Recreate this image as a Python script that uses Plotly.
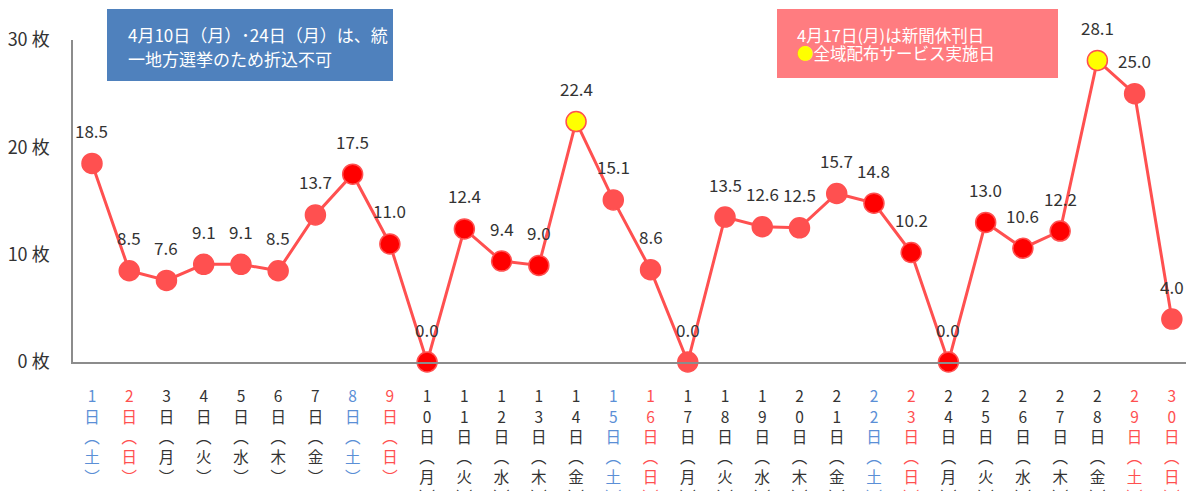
import plotly.graph_objects as go

days = list(range(1, 31))
weekdays = ["土", "日", "月", "火", "水", "木", "金"] * 4 + ["土", "日"]
values = [18.5, 8.5, 7.6, 9.1, 9.1, 8.5, 13.7, 17.5, 11.0, 0.0,
          12.4, 9.4, 9.0, 22.4, 15.1, 8.6, 0.0, 13.5, 12.6, 12.5,
          15.7, 14.8, 10.2, 0.0, 13.0, 10.6, 12.2, 28.1, 25.0, 4.0]
# marker type: L = light red, R = red, Y = yellow (全域配布)
marker_kind = ["L", "L", "L", "L", "L", "L", "L", "R", "R", "R",
               "R", "R", "R", "Y", "L", "L", "L", "L", "L", "L",
               "L", "R", "R", "R", "R", "R", "R", "Y", "L", "L"]
# label colour: B = Saturday blue, H = Sunday/holiday red, N = normal
label_kind = ["B", "H", "N", "N", "N", "N", "N", "B", "H", "N",
              "N", "N", "N", "N", "B", "H", "N", "N", "N", "N",
              "N", "B", "H", "N", "N", "N", "N", "N", "H", "H"]
y_ticks = [0, 10, 20, 30]
y_ticktext = [f"{v} 枚" for v in y_ticks]
blue_note = ["4月10日（月）･24日（月）は、統", "一地方選挙のため折込不可"]
pink_note = ["4月17日(月)は新聞休刊日",
             "<span style='color:#FFFF00'>●</span>全域配布サービス実施日"]

LINE = "#FF5050"
fill_map = {"L": "#FF5050", "R": "#FF0000", "Y": "#FFFF00"}
lab_color = {"B": "#5B8FD6", "H": "#FF5050", "N": "#333333"}
FONT = "Noto Sans CJK JP"

W, H = 1186, 491
L, T, B = 73, 40, 129
PW, PH = W - L, H - T - B


def px(xp):
    return (xp - L) / PW


def py(yp):
    return (H - B - yp) / PH


ticktext = []
for d, w, k in zip(days, weekdays, label_kind):
    parts = list(str(d)) + ["日", "︵", w, "︶"]
    ticktext.append(f"<span style='color:{lab_color[k]}'>" + "<br>".join(parts) + "</span>")

fig = go.Figure()
fig.add_trace(go.Scatter(
    x=days, y=values, mode="lines+markers",
    line=dict(color=LINE, width=3),
    marker=dict(size=20, color=[fill_map[k] for k in marker_kind],
                line=dict(color=LINE, width=1.5)),
    cliponaxis=False, hoverinfo="x+y",
))

for d, v in zip(days, values):
    fig.add_annotation(x=d, y=v, text=f"{v:.1f}", showarrow=False,
                       yshift=33, font=dict(size=17, color="#333333", family=FONT))

# info boxes
fig.add_shape(type="rect", xref="paper", yref="paper",
              x0=px(107), x1=px(393), y0=py(81), y1=py(9),
              fillcolor="#4F81BD", line=dict(width=0), layer="above")
for line_text, yy in zip(blue_note, [34, 58]):
    fig.add_annotation(xref="paper", yref="paper", x=px(126), y=py(yy),
                       xanchor="left", yanchor="middle", align="left", showarrow=False,
                       text=line_text, font=dict(size=17, color="white", family=FONT))
fig.add_shape(type="rect", xref="paper", yref="paper",
              x0=px(777), x1=px(1058), y0=py(78), y1=py(9),
              fillcolor="#FF7C80", line=dict(width=0), layer="above")
for line_text, yy in zip(pink_note, [35, 53]):
    fig.add_annotation(xref="paper", yref="paper", x=px(795), y=py(yy),
                       xanchor="left", yanchor="middle", align="left", showarrow=False,
                       text=line_text, font=dict(size=16.5, color="white", family=FONT))

fig.update_layout(
    width=W, height=H,
    margin=dict(l=L, r=0, t=T, b=B, pad=0),
    paper_bgcolor="white", plot_bgcolor="white",
    showlegend=False,
    font=dict(family=FONT, color="#333333"),
    xaxis=dict(range=[0.49, 30.38], tickmode="array", tickvals=days, ticktext=ticktext,
               showgrid=False, zeroline=False, showline=True, linecolor="#8C8C8C", linewidth=1.5,
               ticks="", ticklabelstandoff=20, automargin=False,
               tickfont=dict(size=15.5, family=FONT)),
    yaxis=dict(range=[0, 30], tickmode="array", tickvals=y_ticks, ticktext=y_ticktext,
               showgrid=False, zeroline=False, showline=True, linecolor="#8C8C8C", linewidth=1.5,
               ticks="", ticklabelstandoff=18, automargin=False,
               tickfont=dict(size=18, color="#333333", family=FONT)),
)

fig.write_html("out.html", config={"displayModeBar": False},
               post_script="document.body.style.margin='0';document.body.style.overflow='hidden';")
